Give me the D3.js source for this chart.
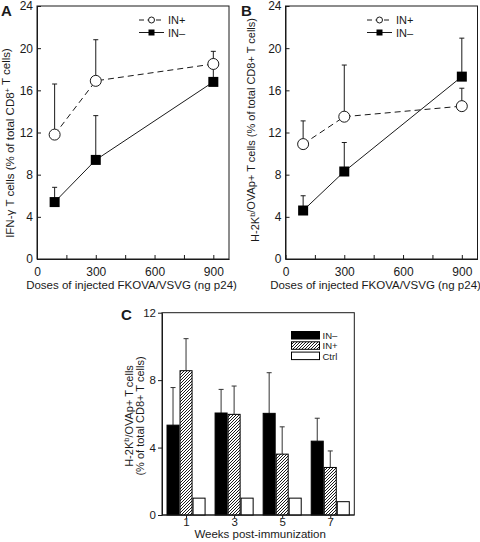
<!DOCTYPE html>
<html>
<head>
<meta charset="utf-8">
<script src="https://cdn.jsdelivr.net/npm/d3@7"></script>
<style>
  html, body { margin: 0; padding: 0; background: #fff; }
  svg { display: block; font-family: Arial, "Liberation Sans", Helvetica, sans-serif; }
</style>
</head>
<body>
<svg id="chart" width="480" height="542"></svg>
<script>
// ---------- DATA ----------
const doses = [90, 300, 900];
const doseTicks = [0, 150, 300, 450, 600, 750, 900];
const doseTickLabels = ["0", "", "300", "", "600", "", "900"];
const yTicksAB = [0, 4, 8, 12, 16, 20, 24];

// Panel A: IFN-γ T cells
const aInPlus = [11.8, 16.9, 18.5];
const aInPlusSD = [4.8, 3.9, 1.2];
const aInMinus = [5.4, 9.4, 16.8];
const aInMinusSD = [1.4, 4.2, 1.5];

// Panel B: H-2Kb/OVAp+ T cells
const bInPlus = [10.9, 13.5, 14.5];
const bInPlusSD = [2.2, 4.9, 1.7];
const bInMinus = [4.6, 8.3, 17.3];
const bInMinusSD = [1.4, 2.75, 3.65];

// Panel C: weeks post-immunization
const weeks = ["1", "3", "5", "7"];
const cSeries = ["IN–", "IN+", "Ctrl"];
const cInMinus = [5.33, 6.05, 6.03, 4.38];
const cInMinusSD = [2.23, 1.4, 2.41, 1.36];
const cInPlus = [8.56, 5.97, 3.61, 2.82];
const cInPlusSD = [1.9, 1.68, 1.62, 0.98];
const cCtrl = [1.0, 1.0, 1.0, 0.79];
const yTicksC = [0, 4, 8, 12];

// ---------- DRAW ----------
const svg = d3.select("#chart");
const ink = "#1a1a1a";

const defs = svg.append("defs");
const pat = defs.append("pattern").attr("id", "hatch")
  .attr("patternUnits", "userSpaceOnUse").attr("width", 3).attr("height", 3);
pat.append("rect").attr("width", 3).attr("height", 3).attr("fill", "#fff");
pat.append("path").attr("d", "M-1,1 l2,-2 M0,3 l3,-3 M2,4 l2,-2")
  .attr("stroke", "#000").attr("stroke-width", 0.9);

function linePanel(opt) {
  const x = d3.scaleLinear().domain([0, 980]).range([opt.left, opt.right]);
  const y = d3.scaleLinear().domain([0, 24]).range([opt.bottom, opt.top]);
  const g = svg.append("g");

  g.append("rect").attr("x", opt.left).attr("y", opt.top)
    .attr("width", opt.right - opt.left).attr("height", opt.bottom - opt.top)
    .attr("fill", "none").attr("stroke", ink).attr("stroke-width", 1);

  const xAxis = d3.axisBottom(x).tickValues(doseTicks).tickSizeInner(-4).tickSizeOuter(0)
    .tickPadding(8).tickFormat((d, i) => doseTickLabels[i]);
  const gx = g.append("g").attr("transform", `translate(0,${opt.bottom})`).call(xAxis);
  const yAxis = d3.axisLeft(y).tickValues(yTicksAB).tickSizeInner(-4).tickSizeOuter(0).tickPadding(4);
  const gy = g.append("g").attr("transform", `translate(${opt.left},0)`).call(yAxis);
  [gx, gy].forEach(a => {
    a.select(".domain").attr("stroke", ink);
    a.selectAll(".tick line").attr("stroke", ink);
    a.selectAll("text").attr("fill", ink).attr("font-size", 12).attr("font-family", null);
  });

  function errs(vals, sds) {
    const eg = g.append("g").attr("stroke", ink).attr("stroke-width", 1);
    doses.forEach((d, i) => {
      if (!sds[i]) return;
      eg.append("line").attr("x1", x(d)).attr("x2", x(d))
        .attr("y1", y(vals[i])).attr("y2", y(vals[i] + sds[i]));
      eg.append("line").attr("x1", x(d) - 2.5).attr("x2", x(d) + 2.5)
        .attr("y1", y(vals[i] + sds[i])).attr("y2", y(vals[i] + sds[i]));
    });
  }
  errs(opt.minus, opt.minusSD);
  errs(opt.plus, opt.plusSD);

  const line = d3.line().x((v, i) => x(doses[i])).y(v => y(v));
  g.append("path").attr("d", line(opt.minus)).attr("fill", "none")
    .attr("stroke", ink).attr("stroke-width", 1);
  g.append("path").attr("d", line(opt.plus)).attr("fill", "none")
    .attr("stroke", ink).attr("stroke-width", 1).attr("stroke-dasharray", "6,4");

  g.selectAll(".sq").data(opt.minus).join("rect")
    .attr("x", (v, i) => x(doses[i]) - 5).attr("y", v => y(v) - 5)
    .attr("width", 10).attr("height", 10).attr("fill", "#000");
  g.selectAll(".ci").data(opt.plus).join("circle")
    .attr("cx", (v, i) => x(doses[i])).attr("cy", v => y(v)).attr("r", 5.5)
    .attr("fill", "#fff").attr("stroke", ink).attr("stroke-width", 1);

  const lg = g.append("g");
  const lx0 = opt.legX, lx1 = opt.legX + 25, ly = opt.top + 14;
  lg.append("line").attr("x1", lx0).attr("x2", lx1).attr("y1", ly).attr("y2", ly)
    .attr("stroke", ink).attr("stroke-dasharray", "5,3.5");
  lg.append("circle").attr("cx", (lx0 + lx1) / 2).attr("cy", ly).attr("r", 3)
    .attr("fill", "#fff").attr("stroke", ink);
  lg.append("line").attr("x1", lx0).attr("x2", lx1).attr("y1", ly + 12.5).attr("y2", ly + 12.5)
    .attr("stroke", ink);
  lg.append("rect").attr("x", (lx0 + lx1) / 2 - 3).attr("y", ly + 9.5).attr("width", 6).attr("height", 6)
    .attr("fill", "#000");
  lg.append("text").attr("x", lx1 + 4).attr("y", ly + 4).attr("font-size", 11).attr("fill", ink).text("IN+");
  lg.append("text").attr("x", lx1 + 4).attr("y", ly + 16.5).attr("font-size", 11).attr("fill", ink).text("IN–");

  g.append("text").attr("x", opt.xtX).attr("y", opt.bottom + 30)
    .attr("text-anchor", "middle").attr("font-size", 11.5).attr("fill", ink)
    .text("Doses of injected FKOVA/VSVG (ng p24)");
  const yt = g.append("text").attr("transform", `translate(${opt.ytX},${opt.ytY}) rotate(-90)`)
    .attr("text-anchor", "middle").attr("font-size", opt.ytSize).attr("fill", ink);
  opt.ytParts.forEach(p => {
    if (p.sup) {
      yt.append("tspan").attr("dy", -4).attr("font-size", 7.5).text(p.t);
      yt.append("tspan").attr("dy", 4).text("");
    } else {
      yt.append("tspan").text(p.t);
    }
  });
  g.append("text").attr("x", opt.letterX).attr("y", 16).attr("font-size", 15)
    .attr("font-weight", "bold").attr("fill", ink).text(opt.letter);
}

linePanel({
  left: 37, right: 229, top: 6, bottom: 259,
  plus: aInPlus, plusSD: aInPlusSD, minus: aInMinus, minusSD: aInMinusSD,
  legX: 139, ytX: 13.5, ytY: 143, ytSize: 11.5, xtX: 131.5, letter: "A", letterX: 1,
  ytParts: [{t: "IFN-γ T cells (% of total CD8"}, {t: "+", sup: true}, {t: " T cells)"}]
});
linePanel({
  left: 285.5, right: 477.5, top: 6, bottom: 259,
  plus: bInPlus, plusSD: bInPlusSD, minus: bInMinus, minusSD: bInMinusSD,
  legX: 367, ytX: 259, ytY: 130, ytSize: 11, xtX: 375.5, letter: "B", letterX: 241,
  ytParts: [{t: "H-2K"}, {t: "b", sup: true}, {t: "/OVAp+ T cells (% of total CD8+ T cells)"}]
});

// ---------- Panel C ----------
(function () {
  const left = 162, right = 354.3, top = 312.7, bottom = 515;
  const x0 = d3.scaleBand().domain(weeks).range([left, right]).paddingInner(0.1875).paddingOuter(0.094);
  const x1 = d3.scaleBand().domain(cSeries).range([0, x0.bandwidth()]);
  const y = d3.scaleLinear().domain([0, 12]).range([bottom, top]);
  const g = svg.append("g");
  const vals = [cInMinus, cInPlus, cCtrl];
  const sds = [cInMinusSD, cInPlusSD, null];
  const fills = ["#000", "url(#hatch)", "#fff"];

  g.append("rect").attr("x", left).attr("y", top).attr("width", right - left).attr("height", bottom - top)
    .attr("fill", "none").attr("stroke", ink);

  cSeries.forEach((s, si) => {
    if (sds[si]) {
      weeks.forEach((w, i) => {
        const cx = x0(w) + x1(s) + x1.bandwidth() / 2;
        g.append("line").attr("x1", cx).attr("x2", cx).attr("y1", y(vals[si][i])).attr("y2", y(vals[si][i] + sds[si][i]))
          .attr("stroke", "#333");
        g.append("line").attr("x1", cx - 2.5).attr("x2", cx + 2.5)
          .attr("y1", y(vals[si][i] + sds[si][i])).attr("y2", y(vals[si][i] + sds[si][i])).attr("stroke", "#333");
      });
    }
    g.selectAll(".b" + si).data(vals[si]).join("rect")
      .attr("x", (v, i) => x0(weeks[i]) + x1(s) + 0.5)
      .attr("y", v => y(v))
      .attr("width", x1.bandwidth() - 1)
      .attr("height", v => y(0) - y(v))
      .attr("fill", fills[si]).attr("stroke", "#000").attr("stroke-width", 1);
  });

  const gx = g.append("g").attr("transform", `translate(0,${bottom})`)
    .call(d3.axisBottom(d3.scalePoint().domain(weeks).range([x0(weeks[0]) + x0.bandwidth() / 2, x0(weeks[3]) + x0.bandwidth() / 2]))
      .tickSizeInner(3).tickSizeOuter(0).tickPadding(0));
  gx.select(".domain").remove();
  const gy = g.append("g").attr("transform", `translate(${left},0)`)
    .call(d3.axisLeft(y).tickValues(yTicksC).tickSizeInner(4).tickSizeOuter(0).tickPadding(2));
  [gx, gy].forEach(a => {
    a.select(".domain").attr("stroke", ink);
    a.selectAll(".tick line").attr("stroke", ink);
    a.selectAll("text").attr("fill", ink).attr("font-size", 11.5).attr("font-family", null);
  });
  g.append("line").attr("x1", left).attr("x2", right).attr("y1", bottom).attr("y2", bottom).attr("stroke", ink);

  const lgX = 291.5, lgY = 331.5;
  cSeries.forEach((s, i) => {
    g.append("rect").attr("x", lgX).attr("y", lgY + i * 10.3).attr("width", 28).attr("height", 7.5)
      .attr("fill", fills[i]).attr("stroke", "#000").attr("stroke-width", 1);
    g.append("text").attr("x", lgX + 31).attr("y", lgY + i * 10.3 + 7.5)
      .attr("font-size", 9.5).attr("fill", ink).text(s);
  });

  g.append("text").attr("x", (left + right) / 2 + 2).attr("y", 538).attr("text-anchor", "middle")
    .attr("font-size", 11.5).attr("fill", ink).text("Weeks post-immunization");
  const t1 = g.append("text").attr("transform", "translate(133,416) rotate(-90)")
    .attr("text-anchor", "middle").attr("font-size", 11).attr("fill", ink);
  t1.append("tspan").text("H-2K");
  t1.append("tspan").attr("dy", -4).attr("font-size", 7.5).text("b");
  t1.append("tspan").attr("dy", 4).text("/OVAp+ T cells");
  g.append("text").attr("transform", "translate(143.5,416) rotate(-90)")
    .attr("text-anchor", "middle").attr("font-size", 11).attr("fill", ink)
    .text("(% of total CD8+ T cells)");
  g.append("text").attr("x", 121).attr("y", 320).attr("font-size", 15).attr("font-weight", "bold")
    .attr("fill", ink).text("C");
})();
</script>
</body>
</html>
